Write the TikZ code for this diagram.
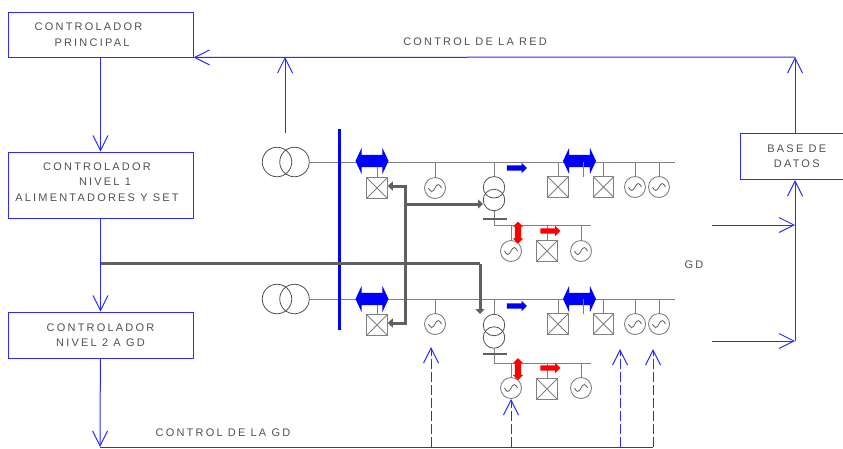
\documentclass[tikz,border=0pt]{standalone}
\usepackage{fontspec}
\setmainfont{Liberation Sans}[LetterSpace=20]
\usetikzlibrary{arrows.meta, positioning, shapes.arrows, calc}
\definecolor{txtgray}{HTML}{505050}
\definecolor{linegray}{HTML}{808080}
\definecolor{feedgray}{HTML}{606060}
\definecolor{ctrlblue}{HTML}{2A2AFF}
\begin{document}
\begin{tikzpicture}[
  x=1pt, y=-1pt,
  every node/.style={font=\fontsize{11}{15.5}\selectfont, text=txtgray},
  ctrlbox/.style={draw=ctrlblue, line width=0.9pt, minimum width=185pt, align=center, inner sep=0pt},
  lbl/.style={inner sep=0pt},
  xformer/.style={draw=txtgray, circle, minimum size=29.5pt, inner sep=0pt, line width=0.8pt},
  xformersm/.style={draw=txtgray, circle, minimum size=21.5pt, inner sep=0pt, line width=0.8pt},
  gen/.style={draw=linegray, circle, minimum size=21pt, inner sep=0pt, line width=0.9pt,
    path picture={\draw[txtgray, line width=0.7pt]
      ([xshift=-6.5pt]path picture bounding box.center)
      .. controls +(2pt,-4.5pt) and +(-2pt,-4.5pt) .. (path picture bounding box.center)
      .. controls +(2pt,4.5pt) and +(-2pt,4.5pt) .. ([xshift=6.5pt]path picture bounding box.center);}},
  breaker/.style={draw=linegray, rectangle, minimum size=20.5pt, inner sep=0pt, line width=1pt,
    path picture={\draw[linegray, line width=0.8pt]
      (path picture bounding box.north west) -- (path picture bounding box.south east)
      (path picture bounding box.north east) -- (path picture bounding box.south west);}},
  flowtwo/.style={double arrow, fill=blue, inner xsep=0pt, inner ysep=6pt, minimum height=33pt,
    double arrow head extend=7pt, double arrow tip angle=130},
  flowred/.style={double arrow, fill=red, shape border rotate=90, inner xsep=3pt, inner ysep=0pt, minimum height=22pt,
    double arrow head extend=2pt},
  flowone/.style={single arrow, fill=#1, inner xsep=0pt, inner ysep=2.5pt, minimum height=20pt,
    single arrow head extend=2.5pt},
  bus/.style={draw=linegray, line width=1pt},
  ctrl/.style={draw=ctrlblue, line width=1pt, -{Straight Barb[length=15pt,width=15pt]}},
  ctrlline/.style={draw=ctrlblue, line width=1pt},
  ctrldash/.style={ctrl, dash pattern=on 10pt off 3pt},
  feed/.style={draw=feedgray, line width=3pt, -{Triangle[length=5pt,width=9pt]}},
  feedline/.style={draw=feedgray, line width=3pt}
  ]
\useasboundingbox (0,0) rectangle (843,448);

% Control boxes
\node[ctrlbox, minimum height=45pt] (princ) at (100.5,34.5) {CONTROLADOR\kern24pt\\PRINCIPAL\kern17pt};
\node[ctrlbox, minimum height=66pt] (nivel1) at (100.5,185) {CONTROLADOR\kern7pt\\\kern9pt NIVEL 1\\ALIMENTADORES Y SET\kern7pt\rule[-6pt]{0pt}{6pt}};
\node[ctrlbox, minimum height=46pt] (nivel2) at (100.5,335) {CONTROLADOR\\NIVEL 2 A GD};
\node[ctrlbox, minimum width=112.5pt, minimum height=46.5pt] (datos) at (796.75,156.25) {BASE DE\\DATOS};

% Labels
\node[lbl] (redlabel) at (475,42) {CONTROL DE LA RED};
\node[lbl] (gdlabel) at (223,433) {CONTROL DE LA GD};
\node[lbl] (gdmid) at (694,265) {GD};

% Upper feeder
\node[xformer] (tra) at (277,162) {};
\node[xformer] (trb) at (294.5,162) {};
\coordinate (busaend) at (675,161.5);
\node[breaker] (brka) at (377,188) {};
\node[gen] (gena) at (435,188) {};
\node[breaker] (brkb) at (558,187) {};
\node[breaker] (brkc) at (603.5,187) {};
\node[gen] (genb) at (635,187) {};
\node[gen] (genc) at (659,187) {};
\node[xformersm] (vtra) at (494,187.3) {};
\node[xformersm] (vtrb) at (494,200) {};
\coordinate (taga) at (494,161.5);
\coordinate (stuba) at (583,161.5);
\coordinate (stubaend) at (583,177);
\coordinate (bara) at (483,219);
\coordinate (baraend) at (507,219);
\coordinate (subcorna) at (494,225.5);
\coordinate (subaend) at (591,225.5);
\node[gen] (subgena) at (511,251) {};
\node[breaker] (subbrka) at (547,251) {};
\node[gen] (subgenb) at (581,251) {};

% Lower feeder
\node[xformer] (trc) at (277,299) {};
\node[xformer] (trd) at (294.5,299) {};
\coordinate (busbend) at (675,299);
\node[breaker] (brkd) at (377,325) {};
\node[gen] (gend) at (435,324) {};
\node[breaker] (brke) at (558,324) {};
\node[breaker] (brkf) at (603.5,324) {};
\node[gen] (gene) at (635,324) {};
\node[gen] (genf) at (659,324) {};
\node[xformersm] (vtrc) at (494,325) {};
\node[xformersm] (vtrd) at (494,337.5) {};
\coordinate (tagb) at (494,299);
\coordinate (stubb) at (583,299);
\coordinate (stubbend) at (583,314);
\coordinate (barb) at (483,354);
\coordinate (barbend) at (507,354);
\coordinate (subcornb) at (494,363);
\coordinate (subbend) at (591,363);
\node[gen] (subgenc) at (511,388) {};
\node[breaker] (subbrkb) at (547,389) {};
\node[gen] (subgend) at (581,388) {};

% Bus lines
\draw[bus] (trb.east) -- (trb.east -| busaend);
\draw[bus] (brka.north) -- (brka.north |- trb.east);
\draw[bus] (gena.north) -- (gena.north |- trb.east);
\draw[bus] (brkb.north) -- (brkb.north |- busaend);
\draw[bus] (brkc.north) -- (brkc.north |- busaend);
\draw[bus] (genb.north) -- (genb.north |- busaend);
\draw[bus] (genc.north) -- (genc.north |- busaend);
\draw[bus] (taga) -- (vtra.north);
\draw[bus] (vtrb.south) -- (subcorna) -- (subaend);
\draw[bus] (subgena.north) -- (subgena.north |- subaend);
\draw[bus] (subbrka.north) -- (subbrka.north |- subaend);
\draw[bus] (subgenb.north) -- (subgenb.north |- subaend);
\draw[feedline, line width=2.4pt] (bara) -- (baraend);

\draw[bus] (trd.east) -- (busbend);
\draw[bus] (brkd.north) -- (brkd.north |- busbend);
\draw[bus] (gend.north) -- (gend.north |- busbend);
\draw[bus] (brke.north) -- (brke.north |- busbend);
\draw[bus] (brkf.north) -- (brkf.north |- busbend);
\draw[bus] (gene.north) -- (gene.north |- busbend);
\draw[bus] (genf.north) -- (genf.north |- busbend);
\draw[bus] (tagb) -- (vtrc.north);
\draw[bus] (vtrd.south) -- (subcornb) -- (subbend);
\draw[bus] (subgenc.north) -- (subgenc.north |- subbend);
\draw[bus] (subbrkb.north) -- (subbrkb.north |- subbend);
\draw[bus] (subgend.north) -- (subgend.north |- subbend);
\draw[feedline, line width=2.4pt] (barb) -- (barbend);

% Feeder bar
\coordinate (bartop) at (339,129);
\coordinate (barend) at (339,330);
\draw[blue, line width=3pt] (bartop) -- (barend);

% Power flow arrows
\node[flowtwo] (flowa) at (372,161) {};
\node[flowtwo] (flowb) at (579.5,161) {};
\node[flowtwo] (flowc) at (372,299) {};
\node[flowtwo] (flowd) at (579.5,299) {};
\node[flowone=blue] (flowe) at (515.5,168) {};
\node[flowone=blue] (flowf) at (515.5,306) {};
\node[flowone=red] (flowg) at (549,231) {};
\node[flowone=red] (flowh) at (549,368) {};
\node[flowred] (flowi) at (518,232.5) {};
\node[flowred] (flowj) at (518,369) {};
\draw[bus] (stuba) -- (stubaend);
\draw[bus] (stubb) -- (stubbend);

% Gray control lines
\coordinate (mainleft) at (100,263.5);
\coordinate (mainright) at (480,263.5);
\coordinate (mainend) at (480,314);
\coordinate (branch) at (405,263.5);
\coordinate (branchup) at (405,186);
\coordinate (branchdown) at (405,323);
\coordinate (branchtap) at (405,204);
\coordinate (branchtapend) at (483,204);
\draw[feedline] (mainleft) -- (mainright);
\draw[feed] (mainright) -- (mainend);
\draw[feed] (branch) -- (branchup) -- (brka.east |- branchup);
\draw[feed] (branch) -- (branchdown) -- (brkd.east |- branchdown);
\draw[feed] (branchtap) -- (branchtapend);

% Control arrows
\coordinate (redcorner) at (795,57);
\coordinate (datostop) at (795,133);
\coordinate (redtap) at (285,57);
\coordinate (redtapend) at (285,133);
\draw[ctrl] (princ) -- (nivel1);
\draw[ctrl] (nivel1) -- (nivel2);
\draw[ctrl] (redtapend) -- (redtap);
\draw[ctrl] (redcorner) -- (princ.south east);
\draw[ctrl] (datostop) -- (redcorner);

\coordinate (gda) at (712,225);
\coordinate (gdaend) at (795,225);
\coordinate (gdb) at (712,341);
\coordinate (gdbend) at (795,341);
\coordinate (datosbot) at (795,180);
\draw[ctrl] (gda) -- (gdaend);
\draw[ctrl] (gdb) -- (gdbend);
\draw[ctrl] (gdbend) -- (datosbot);

\coordinate (gdcorner) at (100,447);
\coordinate (gdend) at (653,447);
\coordinate (dasha) at (431,447);
\coordinate (dashaend) at (431,347);
\coordinate (dashb) at (511,447);
\coordinate (dashc) at (620,447);
\coordinate (dashcend) at (620,349);
\coordinate (dashdend) at (653,349);
\draw[ctrl] (nivel2) -- (gdcorner);
\draw[ctrlline] (gdcorner) -- (gdend);
\draw[ctrldash] (dasha) -- (dashaend);
\draw[ctrldash] (dashb) -- (subgenc.south);
\draw[ctrldash] (dashc) -- (dashcend);
\draw[ctrldash] (gdend) -- (dashdend);

\end{tikzpicture}
\end{document}
